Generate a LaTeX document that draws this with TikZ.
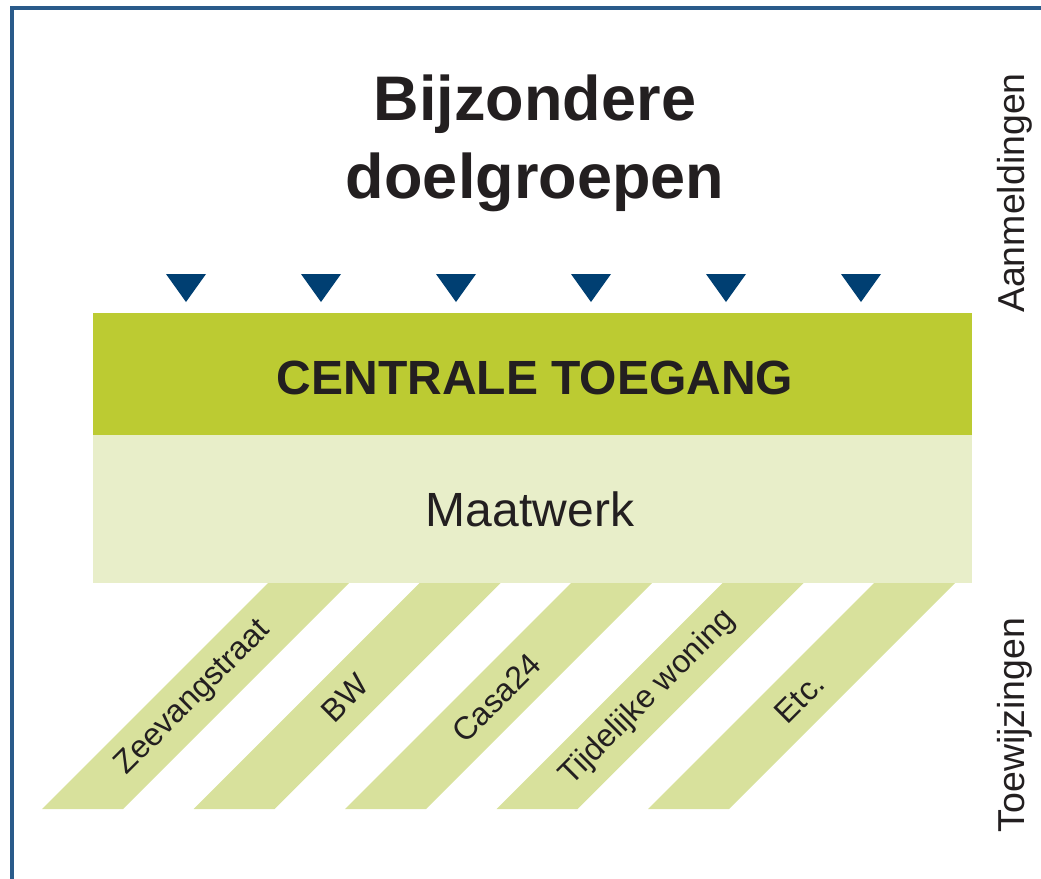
\documentclass[tikz,border=0pt]{standalone}
\usepackage{fontspec}
\setmainfont{Liberation Sans}
\usepackage{xcolor}
\definecolor{tgBlue}{HTML}{003F72}
\definecolor{tgFrame}{HTML}{2A5B8A}
\definecolor{tgGreen}{HTML}{BCCB32}
\definecolor{tgGreen2}{HTML}{E8EEC9}
\definecolor{tgGreen3}{HTML}{D8E19C}
\definecolor{tgGrey}{HTML}{231F20}

\begin{document}
\begin{tikzpicture}[x=0.3pt,y=-0.3pt]
    \pgfmathsetmacro{\d}{151.5}
    \tikzset{
        lbl/.style={text=tgGrey,inner sep=0pt},
        stripe/.pic={
            \fill[tgGreen3] (0,0) --++(81,0)--++(226,-226)--++(-81,0)--cycle;
        }
    }
    \useasboundingbox (0,0) rectangle (1041,879);
    \draw[tgFrame,line width=1.2pt] (1041,8) -- (12,8) -- (12,879);
    \node[lbl,align=center,font=\fontsize{18.9}{23.4}\selectfont\bfseries] (titel) at (535,143) {Bijzondere\\doelgroepen};
    \foreach \i in {0,...,5}{
        \fill[tgBlue] ({166+135*\i},274) --++(40,0)--++(-20,28)--cycle;}
    \fill[tgGreen] (93,313) rectangle (972,435);
    \fill[tgGreen2] (93,435) rectangle (972,583);
    \node[lbl,font=\fontsize{14.4}{17}\selectfont\bfseries] (toegang) at (535,378) {CENTRALE TOEGANG};
    \node[lbl,font=\fontsize{14.4}{17}\selectfont] (maatwerk) at (530,509) {Maatwerk};
    \foreach \t [count=\i from 0] in {Zeevangstraat,BW,Casa24,Tijdelijke woning,Etc.}{
        \draw (42+\d*\i,809) pic {stripe};
        \node[lbl,rotate=45,font=\fontsize{9.6}{11}\selectfont] (plek\i) at ({42+\d*\i+151.5},698) {\t};}
    \node[lbl,rotate=90,font=\fontsize{11.25}{13}\selectfont] (aanmelding) at (1015,193) {Aanmeldingen};
    \node[lbl,rotate=90,font=\fontsize{11.25}{13}\selectfont] (toewijzing) at (1015,725) {Toewijzingen};
\end{tikzpicture}
\end{document}
